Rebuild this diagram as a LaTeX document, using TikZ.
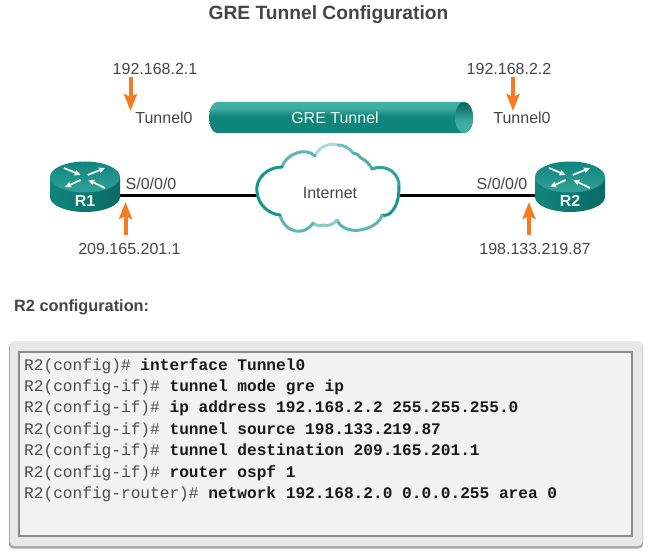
\documentclass[tikz,border=0pt]{standalone}
\usepackage{fontspec}
\setmainfont{Liberation Sans}
\setmonofont{Liberation Mono}
\usepackage{tikz}
\usetikzlibrary{arrows.meta}

\definecolor{txtgray}{HTML}{454545}
\definecolor{tealdark}{HTML}{0A6A65}
\definecolor{tealmid}{HTML}{10857C}
\definecolor{teallight}{HTML}{3FAEA3}
\definecolor{tealcloud}{HTML}{16978E}
\definecolor{arroworange}{HTML}{F47B20}

\pgfdeclareverticalshading{tunnelbody}{100bp}{color(0bp)=(tealdark); color(22bp)=(tealmid); color(52bp)=(tealmid); color(66bp)=(teallight); color(76bp)=(teallight); color(100bp)=(tealmid)}
\pgfdeclareverticalshading{tunnelend}{100bp}{color(0bp)=(tealdark); color(28bp)=(teallight); color(42bp)=(teallight); color(72bp)=(tealdark); color(100bp)=(tealdark)}

\tikzset{
  lbl/.style={font=\fontsize{16}{19}\selectfont, text=txtgray, inner sep=0pt},
  orarrow/.style={draw=arroworange, line width=4pt, -{Stealth[width=13pt,length=17pt,inset=3pt]}},
  wire/.style={line width=3pt, black},
  port/.style={minimum width=70pt, minimum height=10pt, inner sep=0pt, outer sep=0pt},
  icon/.style={draw=white!92!teal, line width=1.8pt, -{Triangle[width=5.5pt,length=6pt]}},
  cloudline/.style={line width=3pt, line cap=round, draw=tealcloud!#1!white},
  cli/.style={font=\ttfamily\fontsize{16.15}{19}\selectfont, anchor=west, inner sep=0pt, text=black!70}
}

\begin{document}
\begin{tikzpicture}[x=1pt,y=-1pt]
\useasboundingbox (0,0) rectangle (650,553);

\node[font=\bfseries\fontsize{19.2}{22}\selectfont, text=txtgray, inner sep=0pt] (title) at (328.5,14.5) {GRE Tunnel Configuration};

% tunnel
\path[shading=tunnelbody] (217,102) -- (464,102) -- (464,133) -- (217,133) arc (90:270:8 and 15.5) -- cycle;
\draw[white!55!teallight, line width=0.7pt] (464,102) arc (-90:90:9 and 15.5);
\path[shading=tunnelbody] (464,102) arc (-90:90:9 and 15.5) -- cycle;
\path[shading=tunnelend] (464,102) arc (-90:270:9 and 15.5) -- cycle;
\node[lbl, text=white!92!teal] (gre) at (335,118) {GRE Tunnel};

% routers and wires
\node[port] (R1) at (85,196) {};
\node[port] (R2) at (570,196) {};
\node[minimum width=142pt, minimum height=10pt, inner sep=0pt, outer sep=0pt] (cloud) at (328,196) {};
\draw[wire] (R1.east) -- (cloud.west);
\draw[wire] (cloud.east) -- (R2.west);

\foreach \name/\x in {R1/85,R2/570} {
\begin{scope}[xshift=\x pt]
 \shade[left color=tealmid, middle color=tealmid!85!teallight, right color=tealdark] (-35,177) -- (-35,197) arc (180:0:35 and 15) -- (35,177) -- cycle;
 \shade[top color=tealmid, bottom color=teallight!70!tealmid] (0,177) ellipse (35 and 15.5);
 \draw[icon] (-21,-9+177) -- (-4.3,-2+177);
 \draw[icon] (20,11+177) -- (3.3,3+177);
 \draw[icon] (2.7,-2+177) -- (20,-9+177);
 \draw[icon] (-4.3,3+177) -- (-20,10+177);
\end{scope}
\node[font=\bfseries\fontsize{16}{19}\selectfont, text=white!92!teal, inner sep=0pt] at ([yshift=-5pt]\name.center) {\name};
}

% cloud
\fill[white]
 (257,192) .. controls (255,178) and (268,167) .. (282,167)
 .. controls (285,155) and (305,146) .. (315,156)
 .. controls (320,144) and (345,141) .. (353,153)
 .. controls (357,154) and (359,155) .. (361,158)
 .. controls (366,160) and (370,165) .. (372,169)
 .. controls (388,163) and (400,175) .. (399,187)
 .. controls (399,197) and (397,205) .. (393,210)
 .. controls (390,215) and (385,216) .. (382,215)
 .. controls (378,230) and (345,238) .. (337,220)
 .. controls (332,226) and (327,226) .. (323,225)
 .. controls (320,226) and (316,226) .. (313,223)
 .. controls (305,236) and (285,234) .. (280,215)
 .. controls (268,214) and (258,204) .. (257,192) -- cycle;
\draw[cloudline=35] (315,156) .. controls (320,144) and (333,143) .. (338,145);
\draw[cloudline=60] (338,145) .. controls (345,145) and (350,149) .. (353,153);
\draw[cloudline=70] (282,167) .. controls (285,155) and (305,146) .. (315,156);
\draw[cloudline=75] (353,153) .. controls (357,154) and (359,155) .. (361,158) .. controls (366,160) and (370,165) .. (372,169);
\draw[cloudline=88] (372,169) .. controls (388,163) and (400,175) .. (399,187);
\draw[cloudline=100] (399,187) .. controls (399,197) and (397,205) .. (393,210) .. controls (390,215) and (385,216) .. (382,215);
\draw[cloudline=70] (382,215) .. controls (378,230) and (345,238) .. (337,220);
\draw[cloudline=50] (337,220) .. controls (332,226) and (327,226) .. (323,225) .. controls (320,226) and (316,226) .. (313,223);
\draw[cloudline=70] (313,223) .. controls (305,236) and (285,234) .. (280,215);
\draw[cloudline=100] (280,215) .. controls (268,214) and (258,204) .. (257,192) .. controls (255,178) and (268,167) .. (282,167);
\node[lbl] (inet) at (330,193) {Internet};

% labels
\node[lbl] (ipL) at (155,69) {192.168.2.1};
\node[lbl] (ipR) at (509,69) {192.168.2.2};
\node[lbl] (tunL) at (164,118) {Tunnel0};
\node[lbl] (tunR) at (522,118) {Tunnel0};
\node[lbl] (portL) at (151,184) {S/0/0/0};
\node[lbl] (portR) at (502,184) {S/0/0/0};
\node[lbl] (wanL) at (129.5,249) {209.165.201.1};
\node[lbl] (wanR) at (535,249) {198.133.219.87};

% orange arrows
\coordinate (a1) at (130.5,77);
\coordinate (b1) at (130.5,111);
\coordinate (a2) at (513,77);
\coordinate (b2) at (513,111);
\coordinate (a3) at (125.5,235);
\coordinate (b3) at (125.5,202);
\coordinate (a4) at (529,235);
\coordinate (b4) at (529,202);
\foreach \i in {1,2,3,4} \draw[orarrow] (a\i) -- (b\i);

\node[font=\bfseries\fontsize{16.3}{19}\selectfont, text=txtgray, anchor=west, inner sep=0pt] (cfg) at (14,307.5) {R2 configuration:};

% config panel
\fill[black!35, rounded corners=4pt] (9,343) rectangle (643,548.5);
\fill[black!9, rounded corners=4pt] (10,341) rectangle (642.5,546);
\draw[fill=black!5, draw=black!45, line width=1.2pt] (19,352) rectangle (632,536);

\foreach \prompt/\cmd [count=\i from 0] in {
 R2(config)\#/interface Tunnel0,
 R2(config-if)\#/tunnel mode gre ip,
 R2(config-if)\#/ip address 192.168.2.2 255.255.255.0,
 R2(config-if)\#/tunnel source 198.133.219.87,
 R2(config-if)\#/tunnel destination 209.165.201.1,
 R2(config-if)\#/router ospf 1,
 R2(config-router)\#/network 192.168.2.0 0.0.0.255 area 0}
 \node[cli] (line\i) at (24,365.8+\i*21.4) {\prompt\ \textbf{\textcolor{black!90}{\cmd}}};

\end{tikzpicture}
\end{document}
